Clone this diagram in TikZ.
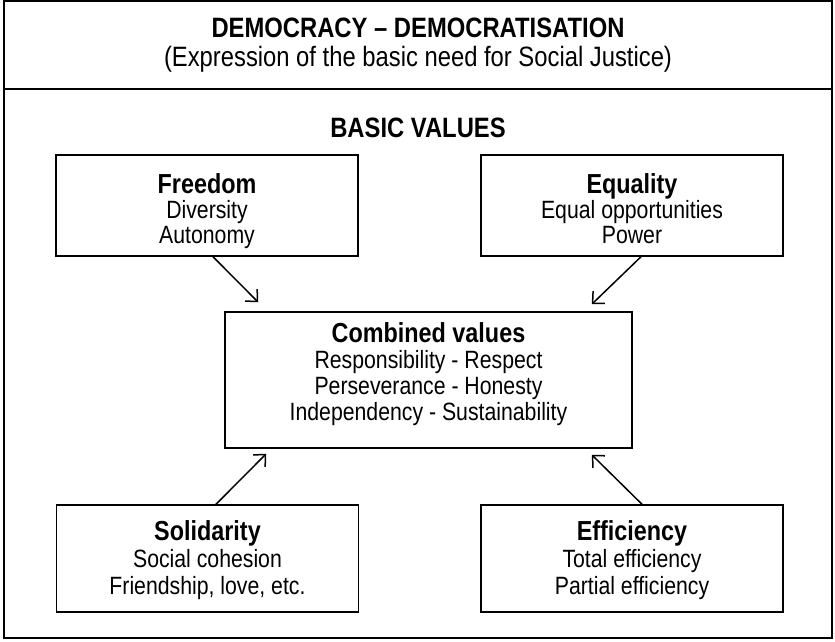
\documentclass[tikz,border=0pt]{standalone}
\usepackage{fontspec}
\setmainfont{Liberation Sans}[FakeStretch=0.85]
\usetikzlibrary{arrows.meta}

% heading line of a box; the optional height pushes the text block down
\newcommand{\valhead}[2][20pt]{\rule{0pt}{#1}{\bfseries\fontsize{27.5}{27.5}\selectfont #2}}
% closing strut of a box, with a fixed depth
\newcommand{\valtail}[1][8pt]{\rule[-#1]{0pt}{#1}}

\begin{document}
\begin{tikzpicture}[x=1pt,y=1pt,
        valuebox/.style={draw, line width=1.5pt, minimum width=302pt, minimum height=101pt,
            inner sep=0pt, align=center, font=\fontsize{25}{25}\selectfont},
        flow/.style={line width=1.5pt, -{Straight Barb[length=9pt,width=17pt]}}]
        \useasboundingbox (0,0) rectangle (835,641);

        % frame and header
        \coordinate (nw) at (4,640);
        \coordinate (se) at (832,3);
        \draw[line width=1.2pt] (nw) rectangle (se);
        \coordinate (sepl) at (4,552);
        \coordinate (sepr) at (832,552);
        \draw[line width=2pt] (sepl) -- (sepr);

        \node[anchor=base, font=\bfseries\fontsize{28}{28}\selectfont] (title) at (418,603) {DEMOCRACY -- DEMOCRATISATION};
        \node[anchor=base, font=\fontsize{28}{28}\selectfont] (subtitle) at (418,574) {(Expression of the basic need for Social Justice)};
        \node[anchor=base, font=\bfseries\fontsize{28}{28}\selectfont] (basic) at (418,503) {BASIC VALUES};

        % the value boxes
        \node[valuebox] (freedom) at (207,435.5) {\valhead[34pt]{Freedom}\\ Diversity\\ Autonomy\valtail};
        \node[valuebox] (equality) at (632,435.5) {\valhead[34pt]{Equality}\\ Equal opportunities\\ Power\valtail};
        \node[valuebox, minimum width=407pt, minimum height=136pt, font=\fontsize{25}{26}\selectfont]
            (combined) at (428.5,261)
            {\valhead[22pt]{Combined values}\\ Responsibility - Respect\\ Perseverance - Honesty\\ Independency - Sustainability\valtail[20pt]};
        \node[valuebox, minimum height=107pt, font=\fontsize{25}{27}\selectfont]
            (solidarity) at (207.5,82.5) {\valhead[25pt]{Solidarity}\\ Social cohesion\\ Friendship, love, etc.\valtail};
        \node[valuebox, minimum height=107pt, font=\fontsize{25}{27}\selectfont]
            (efficiency) at (632,82.5) {\valhead[25pt]{Efficiency}\\ Total efficiency\\ Partial efficiency\valtail};

        % arrows into the combined values
        \draw[flow] ([xshift=6pt]freedom.south) -- ([xshift=34pt,yshift=9pt]combined.north west);
        \draw[flow] ([xshift=9pt]equality.south) -- ([xshift=-41pt,yshift=7pt]combined.north east);
        \draw[flow] ([xshift=8.5pt]solidarity.north) -- ([xshift=42pt,yshift=-5pt]combined.south west);
        \draw[flow] ([xshift=10pt]efficiency.north) -- ([xshift=-41pt,yshift=-6pt]combined.south east);
\end{tikzpicture}
\end{document}
